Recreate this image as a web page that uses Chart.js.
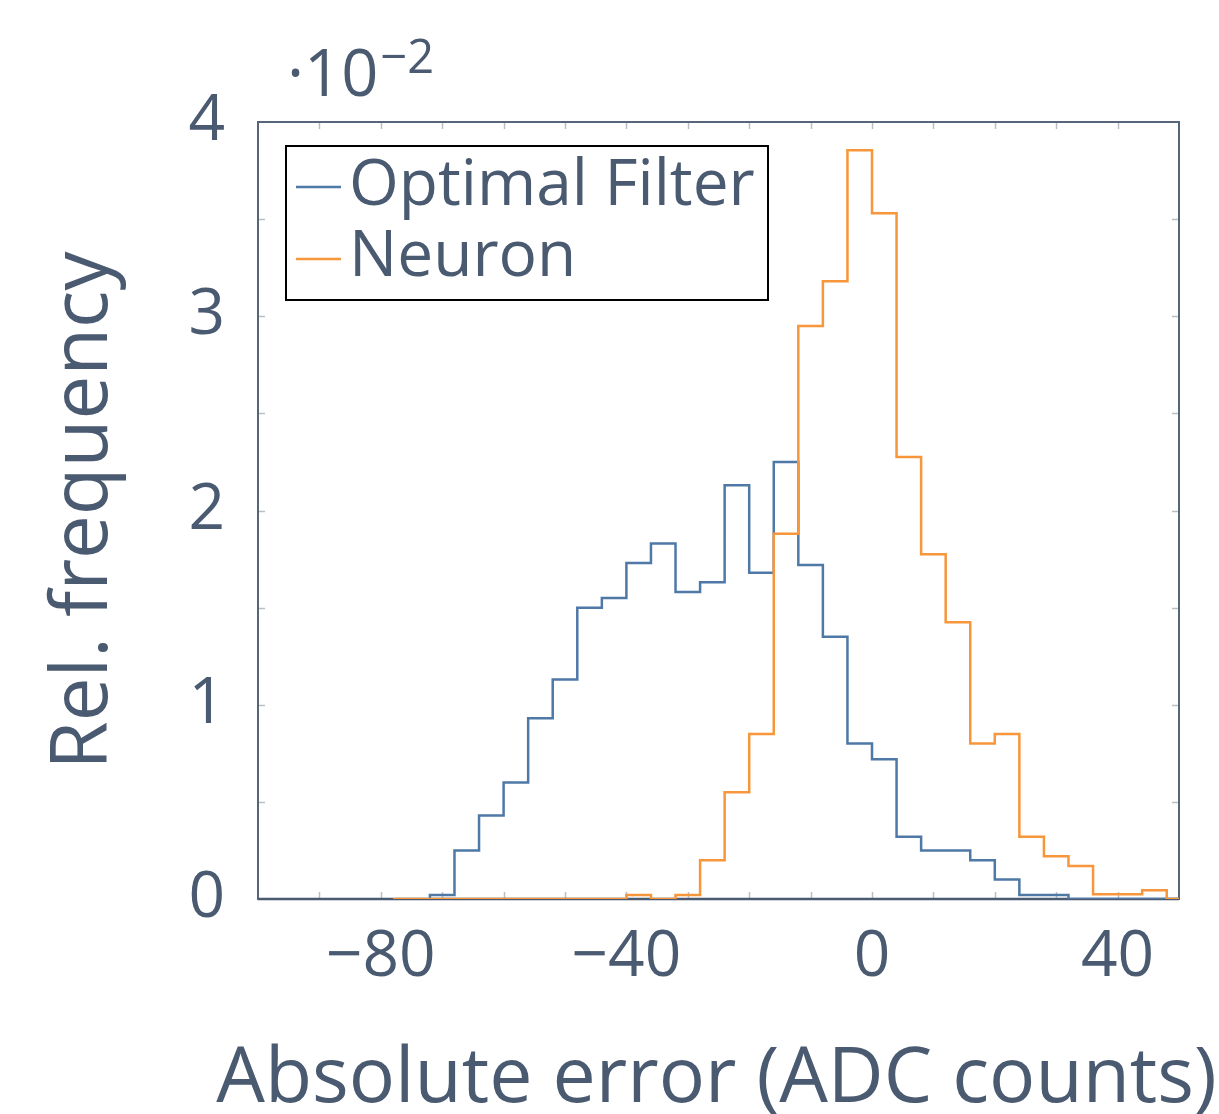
<!DOCTYPE html>
<html><head><meta charset="utf-8">
<script src="https://cdn.jsdelivr.net/npm/chart.js@4.4.1/dist/chart.umd.min.js"></script>
<style>html,body{margin:0;padding:0;background:#fff}#wrap{width:1219px;height:1114px;position:relative}</style>
</head><body><div id="wrap"><canvas id="c" width="1219" height="1114"></canvas></div>
<script>
// ---- data ----
const seriesLabels = ["Optimal Filter", "Neuron"];
const blueEdges = [-72,-68,-64,-60,-56,-52,-48,-44,-40,-36,-32,-28,-24,-20,-16,-12,-8,-4,0,4,8,12,16,20,24,28,32,52];
const blueValues = [0.02,0.25,0.43,0.60,0.93,1.13,1.50,1.55,1.73,1.83,1.58,1.63,2.13,1.68,2.25,1.72,1.35,0.80,0.72,0.32,0.25,0.25,0.20,0.10,0.02,0.02,0];
const orangeEdges = [-78,-40,-36,-32,-28,-24,-20,-16,-12,-8,-4,0,4,8,12,16,20,24,28,32,36,40,44,48,52];
const orangeValues = [0,0.02,0,0.02,0.20,0.55,0.85,1.88,2.95,3.18,3.855,3.53,2.275,1.775,1.425,0.80,0.85,0.32,0.22,0.17,0.025,0.025,0.045,0];
const xLabelTicks = [-80,-40,0,40];
const yLabelTicks = [0,1,2,3,4];
const xMin = -100, xMax = 50, yMin = 0, yMax = 4;
const xTitle = "Absolute error (ADC counts)";
const yTitle = "Rel. frequency";
const multiplierBase = "\u00B710", multiplierExp = "\u22122";

const TEXT = "#4a5a70";
const FONT = "'Open Sans', 'Noto Sans', sans-serif";
const BLUE = "#4e79a7", ORANGE = "#f7963a";

// histogram outline: point at each left edge carries that bin's value
function toPoints(edges, values) {
  const pts = [{x: edges[0], y: 0}];
  for (let i = 0; i < values.length; i++) pts.push({x: edges[i], y: values[i]});
  pts.push({x: edges[edges.length - 1], y: 0});
  return pts;
}
const fmt = v => String(v).replace('-', '\u2212');

const framePlugin = {
  id: 'frame',
  beforeDatasetsDraw(chart) {
    const {ctx, chartArea: a, scales: {x, y}} = chart;
    ctx.save();
    ctx.strokeStyle = "#b9bec6";
    ctx.lineWidth = 1.5;
    const L = 7;
    x.ticks.forEach(t => {
      if (t.value <= xMin || t.value >= xMax) return;
      const px = Math.round(x.getPixelForValue(t.value)) + 0.5;
      ctx.beginPath();
      ctx.moveTo(px, a.bottom); ctx.lineTo(px, a.bottom - L);
      ctx.moveTo(px, a.top); ctx.lineTo(px, a.top + L);
      ctx.stroke();
    });
    y.ticks.forEach(t => {
      if (t.value <= yMin || t.value >= yMax) return;
      const py = Math.round(y.getPixelForValue(t.value)) + 0.5;
      ctx.beginPath();
      ctx.moveTo(a.left, py); ctx.lineTo(a.left + L, py);
      ctx.moveTo(a.right, py); ctx.lineTo(a.right - L, py);
      ctx.stroke();
    });
    ctx.strokeStyle = "#56657a";
    ctx.lineWidth = 2;
    ctx.strokeRect(a.left, a.top, a.right - a.left, a.bottom - a.top);
    ctx.strokeStyle = "#4a5a70";
    ctx.lineWidth = 2.5;
    ctx.beginPath(); ctx.moveTo(a.left, a.bottom); ctx.lineTo(a.right, a.bottom); ctx.stroke();
    ctx.restore();
  },
  afterDraw(chart) {
    const {ctx, chartArea: a} = chart;
    ctx.save();
    // legend
    const bx = 286, by = 146, bw = 482, bh = 154;
    ctx.fillStyle = "#fff";
    ctx.fillRect(bx, by, bw, bh);
    ctx.strokeStyle = "#000";
    ctx.lineWidth = 2;
    ctx.strokeRect(bx, by, bw, bh);
    ctx.font = "64px " + FONT;
    ctx.textBaseline = "alphabetic";
    ctx.textAlign = "left";
    const rows = [{ly: 187, ty: 205}, {ly: 259, ty: 276}];
    chart.data.datasets.forEach((ds, i) => {
      const r = rows[i];
      ctx.strokeStyle = ds.borderColor;
      ctx.lineWidth = 2.5;
      ctx.beginPath(); ctx.moveTo(296, r.ly); ctx.lineTo(341, r.ly); ctx.stroke();
      ctx.fillStyle = TEXT;
      ctx.fillText(ds.label, 349, r.ty);
    });
    // scale multiplier
    ctx.fillStyle = TEXT;
    ctx.font = "65px " + FONT;
    ctx.fillText(multiplierBase, 287, 96);
    const w = ctx.measureText(multiplierBase).width;
    ctx.font = "47px " + FONT;
    ctx.fillText(multiplierExp, 287 + w + 2, 73);
    // x axis title (drawn without width limit)
    ctx.font = "77px " + FONT;
    ctx.textAlign = "center";
    ctx.fillText(xTitle, (a.left + a.right) / 2 - 2, 1102);
    ctx.restore();
  }
};

new Chart(document.getElementById('c'), {
  type: 'line',
  data: {
    datasets: [
      {label: seriesLabels[0], data: toPoints(blueEdges, blueValues), borderColor: BLUE, borderWidth: 2.5, stepped: 'before', pointRadius: 0, fill: false, order: 2},
      {label: seriesLabels[1], data: toPoints(orangeEdges, orangeValues), borderColor: ORANGE, borderWidth: 2.5, stepped: 'before', pointRadius: 0, fill: false, order: 1}
    ]
  },
  options: {
    responsive: false,
    animation: false,
    devicePixelRatio: 1,
    layout: {padding: {top: 122, right: 40, left: 0, bottom: 0}},
    plugins: {legend: {display: false}, tooltip: {enabled: false}},
    scales: {
      x: {
        type: 'linear', min: xMin, max: xMax,
        afterFit(s) { s.height = 215; },
        grid: {display: false, drawTicks: false},
        border: {display: false},
        ticks: {
          stepSize: 10, autoSkip: false, maxRotation: 0, padding: 27,
          color: TEXT, font: {family: FONT, size: 64, lineHeight: 1},
          callback: v => xLabelTicks.includes(v) ? fmt(v) : ''
        },
        title: {display: false}
      },
      y: {
        type: 'linear', min: yMin, max: yMax,
        afterFit(s) { s.width = 258; },
        grid: {display: false, drawTicks: false},
        border: {display: false},
        ticks: {
          stepSize: 0.5, autoSkip: false, padding: 33,
          color: TEXT, font: {family: FONT, size: 64, lineHeight: 1},
          callback: v => yLabelTicks.includes(v) ? fmt(v) : ''
        },
        title: {display: true, text: yTitle, color: TEXT,
          font: {family: FONT, size: 78, lineHeight: 1}, padding: {top: 46, bottom: 0}}
      }
    }
  },
  plugins: [framePlugin]
});
</script></body></html>
